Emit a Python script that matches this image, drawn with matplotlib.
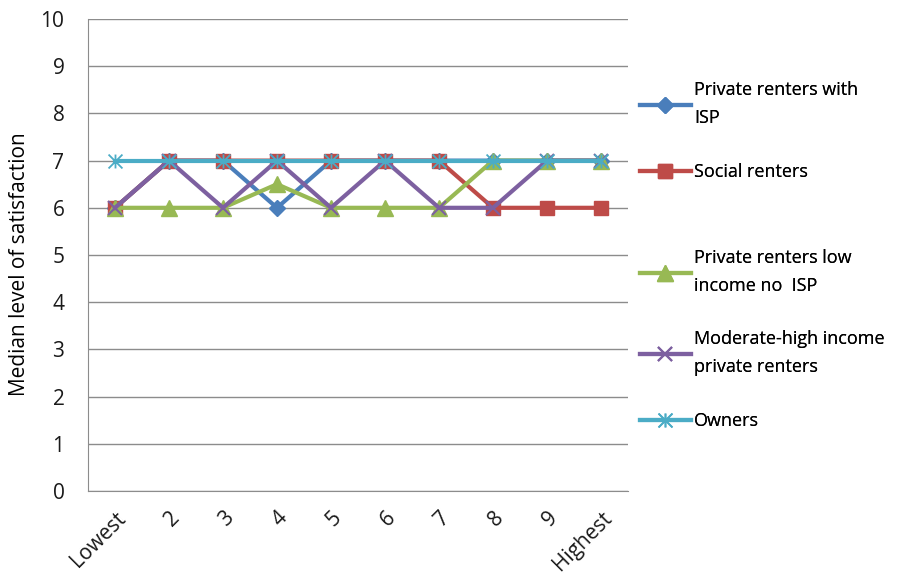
import matplotlib.pyplot as plt
import numpy as np
from matplotlib.path import Path

plt.rcParams['font.family'] = ['Open Sans', 'DejaVu Sans']

categories = ['Lowest', '2', '3', '4', '5', '6', '7', '8', '9', 'Highest']

isp = [6, 7, 7, 6, 7, 7, 7, 7, 7, 7]
social = [6, 7, 7, 7, 7, 7, 7, 6, 6, 6]
low_no_isp = [6, 6, 6, 6.5, 6, 6, 6, 7, 7, 7]
mod_high = [6, 7, 6, 7, 6, 7, 6, 6, 7, 7]
owners = [7, 7, 7, 7, 7, 7, 7, 7, 7, 7]

labels = ['Private renters with\nISP', 'Social renters',
          'Private renters low\nincome no  ISP',
          'Moderate-high income\nprivate renters', 'Owners']

# Excel-style asterisk: an X with a vertical bar
asterisk = Path([(0, -1), (0, 1), (-1, -1), (1, 1), (-1, 1), (1, -1)],
                [Path.MOVETO, Path.LINETO, Path.MOVETO, Path.LINETO,
                 Path.MOVETO, Path.LINETO])

styles = [
    dict(color='#4A7EBB', marker='D', ms=8),
    dict(color='#BE4B48', marker='s', ms=10),
    dict(color='#98B954', marker='^', ms=11),
    dict(color='#7D60A0', marker='x', ms=10, mew=1.5),
    dict(color='#4BACC6', marker=asterisk, ms=10, mew=1.3, mfc='none',
         mec='#4BACC6'),
]

fig = plt.figure(figsize=(9.24, 5.75), dpi=100)
ax = fig.add_axes([88 / 924, 84 / 575, 540 / 924, 472 / 575])

x = np.arange(len(categories))
series = [isp, social, low_no_isp, mod_high, owners]
handles = []
for vals, st in zip(series, styles):
    h, = ax.plot(x, vals, lw=3, **st)
    handles.append(h)

ax.set_xlim(-0.5, len(categories) - 0.5)
ax.set_ylim(0, 10)
ax.set_yticks(range(0, 11))
ax.yaxis.grid(True, color='#8C8C8C', lw=1)
ax.set_axisbelow(True)
for s in ['top', 'right']:
    ax.spines[s].set_visible(False)
for s in ['left', 'bottom']:
    ax.spines[s].set_color('#8C8C8C')
ax.tick_params(length=0, labelsize=15, colors='#1a1a1a')
ax.tick_params(axis='y', pad=17)
ax.tick_params(axis='x', pad=12)
ax.set_xticks(x)
ax.set_xticklabels(categories, rotation=45, ha='right', va='top',
                   rotation_mode='anchor')
ax.set_ylabel('Median level of satisfaction', fontsize=15)
ax.yaxis.set_label_coords(-0.108, 0.48)

# legend entries placed individually at their own heights
legend_y = [104, 172, 272, 353, 421]
for h, lab, yy in zip(handles, labels, legend_y):
    leg = fig.legend([h], [lab], loc='center left',
                     bbox_to_anchor=(640 / 924, 1 - yy / 575),
                     frameon=False, fontsize=13, handlelength=2.8,
                     handletextpad=0.2, borderaxespad=0, borderpad=0)
    for t in leg.get_texts():
        t.set_linespacing(1.75)
    fig.add_artist(leg)

fig.savefig('out.png', dpi=100)
